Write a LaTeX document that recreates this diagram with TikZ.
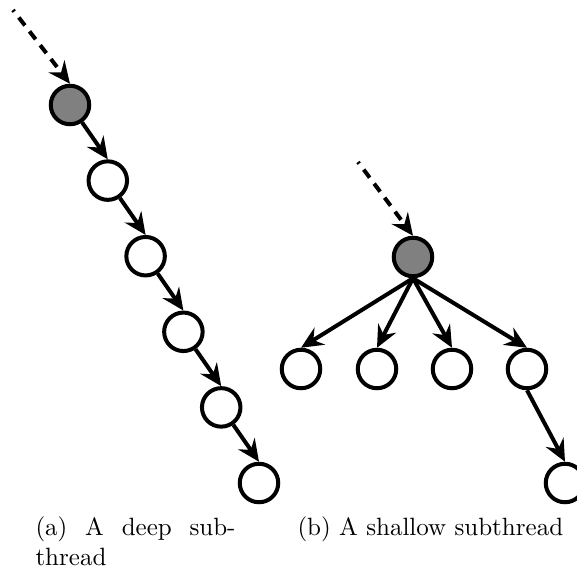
\documentclass[tikz,border=0pt]{standalone}
\usepackage{tikz}
\usetikzlibrary{positioning, arrows.meta}

\begin{document}
\begin{tikzpicture}[x=0.4pt, y=-0.4pt,
        post/.style={circle, draw, line width=1.6pt, minimum size=15.4pt, inner sep=0pt, fill=white},
        root/.style={post, fill=black!50},
        reply/.style={-{Stealth[length=8.8pt, width=8pt, inset=3pt]}, line width=1.6pt},
        quoted/.style={reply, dash pattern=on 4pt off 3pt, dash phase=3.2pt},
        sublbl/.style={anchor=north west, inner sep=0pt, align=left}]
        \useasboundingbox (0,0) rectangle (576,587);
        % deep subthread
        \coordinate (din) at (13,10);
        \node[root] (d0) at (70,105) {};
        \foreach \i in {1,...,5}
          \node[post] (d\i) at ({70+37.8*\i},{105+75.6*\i}) {};
        \draw[quoted] (din) -- (d0.north);
        \foreach \i [count=\j from 1] in {0,...,4}
          \draw[reply] (d\i) -- (d\j.north);
        % shallow subthread
        \coordinate (sin) at (358,162);
        \node[root] (s0) at (413,257) {};
        \node[post] (s1) at (301,369) {};
        \node[post] (s2) at (377,369) {};
        \node[post] (s3) at (452,369) {};
        \node[post] (s4) at (527,369) {};
        \node[post] (s5) at (565,483) {};
        \draw[quoted] (sin) -- (s0.north);
        \foreach \i in {1,...,4}
          \draw[reply] (s0.south) -- (s\i.north);
        \draw[reply] (s4.south) -- (s5.north);
        % captions
        \node[sublbl, text width=80pt] (capa) at (35,516)
          {\makebox[80pt][l]{(a)\hfill A\hfill deep\hfill sub-}\\thread};
        \node[sublbl] (capb) at (297,516) {(b) A shallow subthread};
      \end{tikzpicture}
\end{document}
